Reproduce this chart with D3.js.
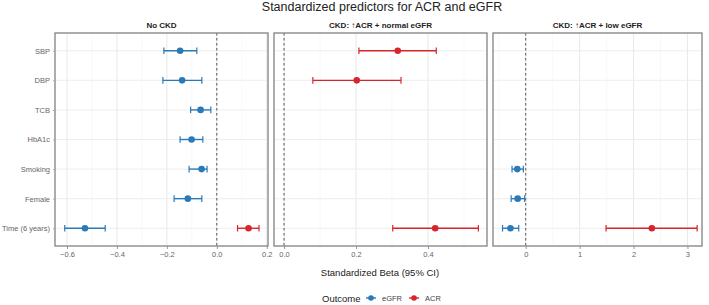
<!DOCTYPE html>
<html><head><meta charset="utf-8">
<script src="https://cdn.jsdelivr.net/npm/d3@7"></script>
<style>body{margin:0;background:#fff}svg{display:block;font-family:"Liberation Sans",Arial,sans-serif}</style>
</head><body><svg id="c" width="709" height="305"></svg>
<script>
const predictors = ["SBP","DBP","TCB","HbA1c","Smoking","Female","Time (6 years)"];
const panels = ["No CKD","CKD: \u2191ACR + normal eGFR","CKD: \u2191ACR + low eGFR"];
const outcomes = ["eGFR","ACR"];
const colors = ["#2a7ab8","#d7262b"];
const panelIdx   = [0,0,0,0,0,0,0,0, 1,1,1, 2,2,2,2];
const predIdx    = [0,1,2,3,4,5,6,6, 0,1,6, 4,5,6,6];
const outIdx     = [0,0,0,0,0,0,0,1, 1,1,1, 0,0,0,1];
const beta = [-0.147,-0.139,-0.065,-0.101,-0.061,-0.116,-0.528,0.127, 0.316,0.202,0.420, -0.156,-0.149,-0.284,2.34];
const lower= [-0.212,-0.216,-0.105,-0.147,-0.111,-0.171,-0.609,0.083, 0.208,0.080,0.302, -0.254,-0.270,-0.430,1.49];
const upper= [-0.080,-0.060,-0.024,-0.056,-0.039,-0.060,-0.447,0.169, 0.423,0.325,0.540, -0.044,-0.020,-0.130,3.18];
const xDomains = [[-0.648,0.205],[-0.028,0.564],[-0.607,3.27]];
const xTicks = [[-0.6,-0.4,-0.2,0.0,0.2],[0.0,0.2,0.4],[0,1,2,3]];
const tickFmt = [d3.format(".1f"), d3.format(".1f"), d3.format("d")];

const svg = d3.select("#c");
const pX = [[55,268],[274,487],[493,702]];
const pTop = 33, pBot = 246;
const y = d3.scalePoint().domain(predictors).range([pTop, pBot]).padding(0.6);

svg.append("text").attr("x",382).attr("y",11).attr("text-anchor","middle")
  .attr("font-size",12.5).attr("fill","#222").text("Standardized predictors for ACR and eGFR");

panels.forEach((p,i)=>{
  const x = d3.scaleLinear().domain(xDomains[i]).range(pX[i]);
  const g = svg.append("g");
  g.append("text").attr("x",(pX[i][0]+pX[i][1])/2).attr("y",28).attr("text-anchor","middle")
    .attr("font-size",8).attr("font-weight","bold").attr("fill","#222").text(p);
  const t = xTicks[i];
  const step = t[1]-t[0];
  const minors = [];
  for(let v=t[0]-step/2; v<=xDomains[i][1]; v+=step){ if(v>=xDomains[i][0]) minors.push(v); }
  g.selectAll(".mn").data(minors).join("line").attr("x1",d=>x(d)).attr("x2",d=>x(d))
    .attr("y1",pTop).attr("y2",pBot).attr("stroke","#f3f3f3").attr("stroke-width",0.6);
  g.selectAll(".gx").data(t).join("line").attr("x1",d=>x(d)).attr("x2",d=>x(d))
    .attr("y1",pTop).attr("y2",pBot).attr("stroke","#e6e6e6").attr("stroke-width",0.9);
  g.selectAll(".gy").data(predictors).join("line").attr("x1",pX[i][0]).attr("x2",pX[i][1])
    .attr("y1",d=>y(d)).attr("y2",d=>y(d)).attr("stroke","#ececec").attr("stroke-width",0.9);
  g.append("line").attr("x1",x(0)).attr("x2",x(0)).attr("y1",pTop).attr("y2",pBot)
    .attr("stroke","#444").attr("stroke-width",0.9).attr("stroke-dasharray","2.5,2.5");
  const ax = g.append("g").attr("transform",`translate(0,${pBot})`)
    .call(d3.axisBottom(x).tickValues(t).tickFormat(tickFmt[i]).tickSize(3).tickPadding(3));
  ax.select(".domain").remove();
  ax.selectAll("line").attr("stroke","#999");
  ax.selectAll("text").attr("font-size",7.5).attr("fill","#666").attr("font-family","Liberation Sans, Arial, sans-serif");
  const idx = d3.range(beta.length).filter(k=>panelIdx[k]===i);
  idx.forEach(k=>{
    const c = colors[outIdx[k]], yy = y(predictors[predIdx[k]]);
    g.append("line").attr("x1",x(lower[k])).attr("x2",x(upper[k])).attr("y1",yy).attr("y2",yy)
      .attr("stroke",c).attr("stroke-width",1.4);
    [lower[k],upper[k]].forEach(v=>g.append("line").attr("x1",x(v)).attr("x2",x(v))
      .attr("y1",yy-3.3).attr("y2",yy+3.3).attr("stroke",c).attr("stroke-width",1.2));
    g.append("circle").attr("cx",x(beta[k])).attr("cy",yy).attr("r",3.3).attr("fill",c);
  });
  g.append("rect").attr("x",pX[i][0]).attr("y",pTop).attr("width",pX[i][1]-pX[i][0]).attr("height",pBot-pTop)
    .attr("fill","none").attr("stroke","#8a8a8a").attr("stroke-width",1.4);
});

const yl = svg.append("g").attr("transform",`translate(55,0)`).call(d3.axisLeft(y).tickSize(2).tickPadding(3));
yl.select(".domain").remove();
yl.selectAll("line").attr("stroke","#aaa");
yl.selectAll("text").attr("font-size",7.5).attr("fill","#666").attr("font-family","Liberation Sans, Arial, sans-serif");

svg.append("text").attr("x",380).attr("y",276).attr("text-anchor","middle")
  .attr("font-size",9.5).attr("fill","#222").text("Standardized Beta (95% CI)");

const lg = svg.append("g");
lg.append("text").attr("x",322).attr("y",301.5).attr("font-size",9.5).attr("fill","#222").text("Outcome");
const lx = [371,414];
outcomes.forEach((o,j)=>{
  lg.append("line").attr("x1",lx[j]-5).attr("x2",lx[j]+5).attr("y1",298).attr("y2",298).attr("stroke",colors[j]).attr("stroke-width",1.4);
  lg.append("circle").attr("cx",lx[j]).attr("cy",298).attr("r",2.8).attr("fill",colors[j]);
  lg.append("text").attr("x",lx[j]+11).attr("y",300.8).attr("font-size",7.5).attr("fill","#444").text(o);
});
</script></body></html>
